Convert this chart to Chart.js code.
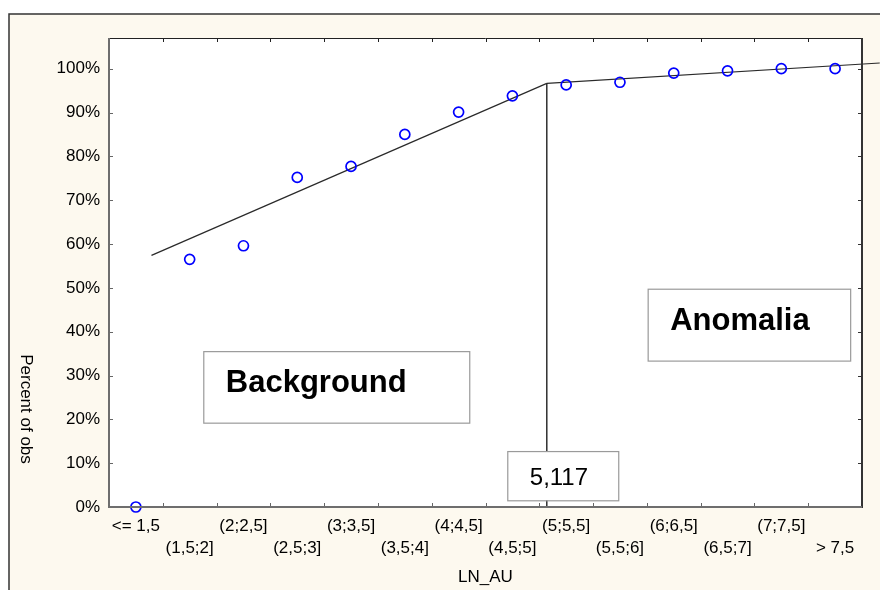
<!DOCTYPE html>
<html>
<head>
<meta charset="utf-8">
<script src="https://cdn.jsdelivr.net/npm/chart.js@4.4.1/dist/chart.umd.min.js"></script>
<style>
  html, body { margin: 0; padding: 0; background: #ffffff; }
  #wrap { width: 880px; height: 590px; position: relative; }
</style>
</head>
<body>
<div id="wrap"><canvas id="c" width="880" height="590"></canvas></div>
<script>
// ---- data ----
const categories = ["<= 1,5", "(1,5;2]", "(2;2,5]", "(2,5;3]", "(3;3,5]", "(3,5;4]", "(4;4,5]",
                    "(4,5;5]", "(5;5,5]", "(5,5;6]", "(6;6,5]", "(6,5;7]", "(7;7,5]", "> 7,5"];
const percentObs = [0, 56.5, 59.6, 75.2, 77.7, 85.0, 90.1, 93.8, 96.3, 96.9, 99.0, 99.5, 100, 100];
const yTickValues = [0, 10, 20, 30, 40, 50, 60, 70, 80, 90, 100];
const yTickLabels = ["0%", "10%", "20%", "30%", "40%", "50%", "60%", "70%", "80%", "90%", "100%"];
// fitted lines (x in category index units, y in percent)
const cutoffX = 7.64;
const cutoffLabel = "5,117";
const backgroundLineX = [0.29, cutoffX];
const backgroundLineY = [57.4, 96.65];
const anomalyLineX = [cutoffX, 13.83];
const anomalyLineY = [96.65, 101.3];
const cutoffLineY = [96.65, 0];
// text annotations: [label, xLeft, xRight, yTop, yBottom] in data units
const annotations = [
  ["Background", 1.253, 6.198, 35.56, 19.24, "bold 31px 'Liberation Sans', Arial, sans-serif"],
  ["Anomalia", 9.515, 13.28, 49.8, 33.4, "bold 31px 'Liberation Sans', Arial, sans-serif"],
  [cutoffLabel, 6.905, 8.968, 12.76, 1.53, "24px 'Liberation Sans', Arial, sans-serif"]
];

const FONT = "'Liberation Sans', Arial, sans-serif";
const toXY = (xs, ys) => xs.map((x, i) => ({ x: x, y: ys[i] }));

const framePlugin = {
  id: 'frame',
  beforeDraw(chart) {
    const ctx = chart.ctx, a = chart.chartArea;
    ctx.save();
    ctx.fillStyle = '#ffffff';
    ctx.fillRect(0, 0, chart.width, chart.height);
    ctx.fillStyle = '#fdf9ef';
    ctx.fillRect(9, 14, chart.width - 9, chart.height - 14);
    ctx.strokeStyle = '#333333';
    ctx.lineWidth = 1.5;
    ctx.beginPath();
    ctx.moveTo(9, chart.height);
    ctx.lineTo(9, 14);
    ctx.lineTo(chart.width, 14);
    ctx.stroke();
    ctx.fillStyle = '#ffffff';
    ctx.fillRect(a.left, a.top, a.right - a.left, a.bottom - a.top);
    // y axis title, rotated clockwise
    ctx.translate(26, 409);
    ctx.rotate(Math.PI / 2);
    ctx.fillStyle = '#000000';
    ctx.font = '17px ' + FONT;
    ctx.textAlign = 'center';
    ctx.textBaseline = 'middle';
    ctx.fillText('Percent of obs', 0, 0);
    ctx.restore();
  },
  afterDatasetsDraw(chart) {
    const ctx = chart.ctx, a = chart.chartArea;
    const xs = chart.scales.x, ys = chart.scales.y;
    ctx.save();
    annotations.forEach(([label, x0, x1, y0, y1, font], k) => {
      const l = xs.getPixelForValue(x0), r = xs.getPixelForValue(x1);
      const t = ys.getPixelForValue(y0), b = ys.getPixelForValue(y1);
      ctx.fillStyle = '#ffffff';
      ctx.fillRect(l, t, r - l, b - t);
      ctx.strokeStyle = '#9a9a9a';
      ctx.lineWidth = 1.2;
      ctx.strokeRect(l + 0.5, t + 0.5, r - l, b - t);
      ctx.fillStyle = '#000000';
      ctx.font = font;
      ctx.textAlign = 'left';
      ctx.textBaseline = 'alphabetic';
      const off = k === 2 ? 34.3 : 41;
      ctx.fillText(label, l + 22.5, t + off);
    });
    // ticks (inward)
    const tl = 4;
    for (let i = 1; i < categories.length; i++) {
      const px = Math.round(xs.getPixelForValue(i - 0.5)) + 0.5;
      ctx.strokeStyle = '#666666'; ctx.lineWidth = 1;
      ctx.beginPath(); ctx.moveTo(px, a.bottom); ctx.lineTo(px, a.bottom - tl); ctx.stroke();
      ctx.strokeStyle = '#222222';
      ctx.beginPath(); ctx.moveTo(px, a.top); ctx.lineTo(px, a.top + tl); ctx.stroke();
    }
    yTickValues.forEach(v => {
      const py = Math.round(ys.getPixelForValue(v)) + 0.5;
      ctx.strokeStyle = '#666666'; ctx.lineWidth = 1;
      ctx.beginPath(); ctx.moveTo(a.left, py); ctx.lineTo(a.left + tl, py); ctx.stroke();
      ctx.strokeStyle = '#333333';
      ctx.beginPath(); ctx.moveTo(a.right, py); ctx.lineTo(a.right - tl, py); ctx.stroke();
    });
    // plot borders
    ctx.lineWidth = 1;
    ctx.strokeStyle = '#222222';
    ctx.beginPath(); ctx.moveTo(a.left, a.top + 0.5); ctx.lineTo(a.right, a.top + 0.5); ctx.stroke();
    ctx.lineWidth = 2;
    ctx.strokeStyle = '#333333';
    ctx.beginPath(); ctx.moveTo(a.right, a.top); ctx.lineTo(a.right, a.bottom + 1); ctx.stroke();
    ctx.strokeStyle = '#6e6e6e';
    ctx.beginPath(); ctx.moveTo(a.left, a.top); ctx.lineTo(a.left, a.bottom); ctx.lineTo(a.right, a.bottom); ctx.stroke();
    ctx.restore();
  }
};

new Chart(document.getElementById('c'), {
  type: 'scatter',
  data: {
    datasets: [
      {
        type: 'line', data: toXY(backgroundLineX, backgroundLineY), borderColor: '#2a2a2a',
        borderWidth: 1.2, pointRadius: 0, fill: false, clip: false, order: 3
      },
      {
        type: 'line', data: toXY(anomalyLineX, anomalyLineY), borderColor: '#2a2a2a',
        borderWidth: 1.2, pointRadius: 0, fill: false, clip: false, order: 3
      },
      {
        type: 'line', data: toXY([cutoffX, cutoffX], cutoffLineY), borderColor: '#111111',
        borderWidth: 1.3, pointRadius: 0, fill: false, clip: false, order: 3
      },
      {
        data: percentObs.map((v, i) => ({ x: i, y: v })),
        pointRadius: 5, pointBorderWidth: 1.7, pointBorderColor: '#0000ff',
        pointBackgroundColor: 'rgba(0,0,0,0)', pointStyle: 'circle', clip: false, order: 1
      }
    ]
  },
  options: {
    responsive: false,
    animation: false,
    devicePixelRatio: 1,
    layout: { padding: { left: 0, right: 18, top: 38, bottom: 0 } },
    plugins: { legend: { display: false }, tooltip: { enabled: false } },
    scales: {
      x: {
        type: 'linear', min: -0.5, max: categories.length - 0.5,
        afterBuildTicks(scale) { scale.ticks = categories.map((_, i) => ({ value: i })); },
        afterFit(scale) { scale.height = 83; },
        grid: { display: false, drawTicks: false },
        border: { display: false },
        ticks: {
          autoSkip: false, maxRotation: 0, minRotation: 0, padding: 9,
          color: '#000000', font: { family: FONT, size: 17, lineHeight: 1.27 },
          callback(value) {
            const i = Math.round(value);
            return i % 2 ? ['', categories[i]] : categories[i];
          }
        },
        title: {
          display: true, text: 'LN_AU', color: '#000000',
          font: { family: FONT, size: 17 }, padding: { top: 0, bottom: 2 }
        }
      },
      y: {
        min: 0, max: 107,
        afterBuildTicks(scale) { scale.ticks = yTickValues.map(v => ({ value: v })); },
        afterFit(scale) { scale.width = 109; },
        grid: { display: false, drawTicks: false },
        border: { display: false },
        ticks: {
          padding: 9, color: '#000000', font: { family: FONT, size: 17 },
          callback(value) { const k = yTickValues.indexOf(value); return k >= 0 ? yTickLabels[k] : ''; }
        }
      }
    }
  },
  plugins: [framePlugin]
});
</script>
</body>
</html>
